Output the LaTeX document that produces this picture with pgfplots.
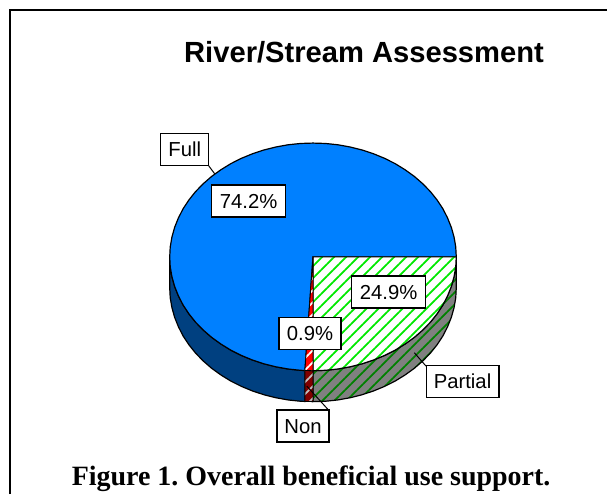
\documentclass[border=0pt]{standalone}
\usepackage{fontspec}
\setmainfont{Liberation Sans}
\newfontfamily\capfont{Liberation Serif}
\usepackage{pgfplots}
\usepackage{pgfplotstable}
\pgfplotsset{compat=1.18}
\usetikzlibrary{patterns.meta}
% outlines of the slices (image pixels): Full 74.2, Partial 24.9, Non 0.9
\pgfplotstableread{
x y
313.5 258
305.4 371.8
301.0 371.6
288.6 370.3
276.4 368.1
264.4 365.1
252.9 361.3
241.75 356.7
231.2 351.4
221.3 345.3
212.0 338.6
203.6 331.3
195.9 323.4
189.2 315
183.4 306.2
178.7 297
174.9 287.5
172.2 277.8
170.5 267.9
170.0 258
170.5 248.1
172.2 238.2
174.9 228.5
178.7 219
183.4 209.8
189.2 201
195.9 192.6
203.6 184.7
212.0 177.4
221.3 170.7
231.2 164.6
241.75 159.3
252.9 154.7
264.4 150.9
276.4 147.9
288.6 145.7
301.0 144.4
313.5 144
326.0 144.4
338.4 145.7
350.6 147.9
362.6 150.9
374.1 154.7
385.25 159.3
395.8 164.6
405.7 170.7
415.0 177.4
423.4 184.7
431.1 192.6
437.8 201
443.6 209.8
448.3 219
452.1 228.5
454.8 238.2
456.5 248.1
457.0 258
}\FullTop
\pgfplotstableread{
x y
313.5 258
457.0 258
456.5 267.9
454.8 277.8
452.1 287.5
448.3 297
443.6 306.2
437.8 315
431.1 323.4
423.4 331.3
415.0 338.6
405.7 345.3
395.8 351.4
385.25 356.7
374.1 361.3
362.6 365.1
350.6 368.1
338.4 370.3
326.0 371.6
313.5 372
}\PartialTop
\pgfplotstableread{
x y
313.5 258
313.5 372
305.4 371.8
}\NonTop
\pgfplotstableread{
x y
170.0 258
170.5 267.9
172.2 277.8
174.9 287.5
178.7 297
183.4 306.2
189.2 315
195.9 323.4
203.6 331.3
212.0 338.6
221.3 345.3
231.2 351.4
241.75 356.7
252.9 361.3
264.4 365.1
276.4 368.1
288.6 370.3
301.0 371.6
305.4 371.8
305.4 402.8
301.0 402.6
288.6 401.3
276.4 399.1
264.4 396.1
252.9 392.3
241.75 387.7
231.2 382.4
221.3 376.3
212.0 369.6
203.6 362.3
195.9 354.4
189.2 346
183.4 337.2
178.7 328
174.9 318.5
172.2 308.8
170.5 298.9
170.0 289
}\FullSide
\pgfplotstableread{
x y
457.0 258
456.5 267.9
454.8 277.8
452.1 287.5
448.3 297
443.6 306.2
437.8 315
431.1 323.4
423.4 331.3
415.0 338.6
405.7 345.3
395.8 351.4
385.25 356.7
374.1 361.3
362.6 365.1
350.6 368.1
338.4 370.3
326.0 371.6
313.5 372
313.5 403
326.0 402.6
338.4 401.3
350.6 399.1
362.6 396.1
374.1 392.3
385.25 387.7
395.8 382.4
405.7 376.3
415.0 369.6
423.4 362.3
431.1 354.4
437.8 346
443.6 337.2
448.3 328
452.1 318.5
454.8 308.8
456.5 298.9
457.0 289
}\PartialSide
\pgfplotstableread{
x y
313.5 372
305.4 371.8
305.4 402.8
313.5 403
}\NonSide
\definecolor{fullblue}{HTML}{0080FF}
\definecolor{fulldark}{HTML}{004080}
\definecolor{hatchgreen}{HTML}{00E800}
\definecolor{hatchdark}{HTML}{008000}
\definecolor{sidegray}{HTML}{808080}
\definecolor{nondark}{HTML}{800000}
\tikzset{
  box/.style={draw=black,line width=1.2pt,fill=white,inner sep=0pt,font=\fontsize{20.3}{22}\selectfont,text height=14.5pt,text depth=0pt,align=center,anchor=center},
  hatch/.style={pattern={Lines[angle=45,distance=8.5pt,line width=1.8pt]},pattern color=#1}
}
\pgfplotsset{/pgfplots/table/yy/.style={y expr=\thisrow{y}-0.7}}
\begin{document}
\begin{tikzpicture}
\begin{axis}[x=1pt,y=1pt,xmin=0,xmax=608,ymin=0,ymax=495,y dir=reverse,hide axis,clip=false]
% page extent
\addplot[draw=none] coordinates {(0,0)(608,495)};
% sides
\addplot[fill=fulldark,draw=black,line width=1.2pt] table[x=x,yy] {\FullSide} --cycle;
\addplot[fill=sidegray,draw=none] table[x=x,yy] {\PartialSide} --cycle;
\addplot[hatch=hatchdark,draw=black,line width=1.2pt] table[x=x,yy] {\PartialSide} --cycle;
\addplot[fill=nondark,draw=none] table[x=x,yy] {\NonSide} --cycle;
\addplot[hatch=lightgray,draw=black,line width=0.8pt] table[x=x,yy] {\NonSide} --cycle;
% top
\addplot[fill=fullblue,draw=black,line width=1.2pt] table[x=x,yy] {\FullTop} --cycle;
\addplot[fill=white,draw=none] table[x=x,yy] {\PartialTop} --cycle;
\addplot[hatch=hatchgreen,draw=black,line width=1.2pt] table[x=x,yy] {\PartialTop} --cycle;
\addplot[fill=red,draw=none] table[x=x,yy] {\NonTop} --cycle;
\addplot[hatch=white,draw=black,line width=0.8pt] table[x=x,yy] {\NonTop} --cycle;
% leader lines
\addplot[black,line width=1pt] coordinates {(209,166)(215,174)};
\addplot[black,line width=1pt] coordinates {(415,353.3)(426.7,366.7)};
\addplot[black,line width=1pt] coordinates {(307.3,386.7)(329.3,411)};
% frame
\addplot[black,line width=2pt] coordinates {(10,495)(10,10)(608,10)};
% labels
\node[box,minimum width=48pt,minimum height=32pt] at (axis cs:185,150) {Full};
\node[box,minimum width=74pt,minimum height=32pt] at (axis cs:249,201.3) {74.2\%};
\node[box,minimum width=74pt,minimum height=32pt] at (axis cs:389.3,292.5) {24.9\%};
\node[box,minimum width=62pt,minimum height=32pt] at (axis cs:310.5,334) {0.9\%};
\node[box,minimum width=73pt,minimum height=32pt] at (axis cs:463.3,381.8) {Partial};
\node[box,minimum width=52pt,minimum height=32pt] at (axis cs:303.5,426.7) {Non};
\node[anchor=base west,inner sep=0pt,font=\fontsize{29.2}{32}\selectfont\bfseries] at (axis cs:184.3,62.3) {River/Stream Assessment};
\node[anchor=base west,inner sep=0pt,font=\frenchspacing\capfont\fontsize{28}{30}\selectfont\bfseries] at (axis cs:71.7,486.3) {Figure 1. Overall beneficial use support.};
\end{axis}
\end{tikzpicture}
\end{document}
